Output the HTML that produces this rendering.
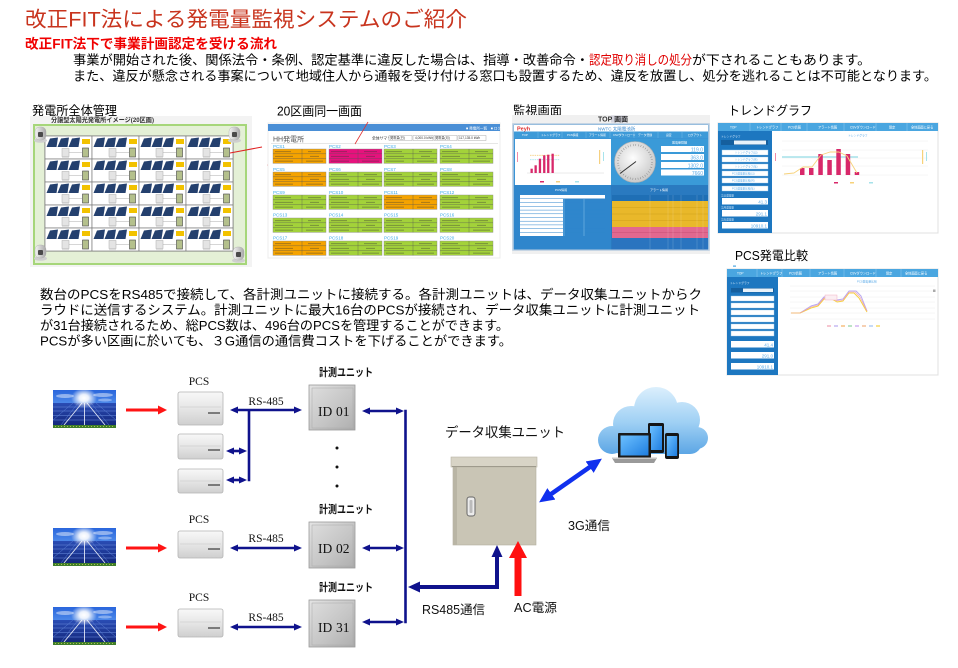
<!DOCTYPE html>
<html><head><meta charset="utf-8">
<style>
html,body{margin:0;padding:0;background:#fff;}
svg{display:block;}
text{font-family:"Liberation Sans","Noto Sans CJK JP",sans-serif;}
.sf text, text.sf{font-family:"Liberation Serif","Noto Serif CJK SC",serif;}
</style></head><body>
<svg width="958" height="668" viewBox="0 0 958 668" xmlns="http://www.w3.org/2000/svg">
<defs>
<linearGradient id="sky" x1="0" y1="0" x2="0" y2="1"><stop offset="0" stop-color="#2a66dc"/><stop offset="1" stop-color="#8cc8ff"/></linearGradient>
<radialGradient id="sun" cx=".5" cy=".5" r=".5"><stop offset="0" stop-color="#fff"/><stop offset=".35" stop-color="#fff" stop-opacity=".9"/><stop offset="1" stop-color="#fff" stop-opacity="0"/></radialGradient>
<linearGradient id="pan" x1="0" y1="0" x2="0" y2="1"><stop offset="0" stop-color="#2a4cb4"/><stop offset="1" stop-color="#14287c"/></linearGradient>
<linearGradient id="pcsg" x1="0" y1="0" x2="0" y2="1"><stop offset="0" stop-color="#f8f8f8"/><stop offset=".5" stop-color="#e6e6e6"/><stop offset="1" stop-color="#cfcfcf"/></linearGradient>
<linearGradient id="boxg" x1="0" y1="0" x2="1" y2="1"><stop offset="0" stop-color="#e4e4e4"/><stop offset="1" stop-color="#a9a9a9"/></linearGradient>
<linearGradient id="doorg" x1="0" y1="0" x2="1" y2="1"><stop offset="0" stop-color="#dcdcdc"/><stop offset=".6" stop-color="#c4c4c4"/><stop offset="1" stop-color="#b0b0b0"/></linearGradient>
<linearGradient id="camg" x1="0" y1="0" x2="1" y2="0"><stop offset="0" stop-color="#f4f4f4"/><stop offset="1" stop-color="#a8a8a8"/></linearGradient>
<linearGradient id="cloudg" gradientUnits="userSpaceOnUse" x1="0" y1="385" x2="0" y2="460"><stop offset="0" stop-color="#dff1fd"/><stop offset=".5" stop-color="#9fd0f4"/><stop offset="1" stop-color="#4f9ee2"/></linearGradient>
<linearGradient id="scr" x1="0" y1="0" x2="1" y2="1"><stop offset="0" stop-color="#6cc0ff"/><stop offset="1" stop-color="#1f7ee0"/></linearGradient>
<radialGradient id="gauge" cx=".45" cy=".4" r=".6"><stop offset="0" stop-color="#fdfdfd"/><stop offset="1" stop-color="#c9c9c9"/></radialGradient>

<marker id="nv" markerUnits="userSpaceOnUse" markerWidth="8" markerHeight="7" refX="5" refY="3.5" orient="auto-start-reverse"><path d="M0,0 L8,3.5 L0,7 z" fill="#0f128c"/></marker>
<marker id="nvb" markerUnits="userSpaceOnUse" markerWidth="12" markerHeight="11" refX="7" refY="5.5" orient="auto-start-reverse"><path d="M0,0 L12,5.5 L0,11 z" fill="#0f128c"/></marker>
<marker id="rd" markerUnits="userSpaceOnUse" markerWidth="9" markerHeight="9" refX="6" refY="4.5" orient="auto"><path d="M0,0 L9,4.5 L0,9 z" fill="#ff1414"/></marker>
<marker id="bl" markerUnits="userSpaceOnUse" markerWidth="15" markerHeight="14" refX="9" refY="7" orient="auto-start-reverse"><path d="M0,0 L15,7 L0,14 z" fill="#1030ee"/></marker>

<g id="solar">
<rect width="63" height="38" fill="url(#sky)"/>
<ellipse cx="12" cy="6" rx="9" ry="2" fill="#fff" opacity=".45"/>
<ellipse cx="50" cy="5" rx="10" ry="2" fill="#fff" opacity=".45"/>
<ellipse cx="52" cy="10" rx="7" ry="1.5" fill="#fff" opacity=".35"/>
<rect y="13" width="63" height="22" fill="url(#pan)"/>
<path d="M0,17H63M0,21H63M0,25.5H63M0,30H63" stroke="#6d8fe0" stroke-width=".5"/>
<path d="M20,13L0,30M43,13L63,30M25,13L8,35M38,13L56,35" stroke="#5b7fd6" stroke-width=".5"/>
<path d="M29,13L11,35M34,13L52,35M31.5,13V35" stroke="#dfe5f4" stroke-width=".9"/>
<ellipse cx="31" cy="8" rx="13" ry="10" fill="url(#sun)"/>
<rect y="35" width="63" height="3" fill="#3f7d2a"/>
<path d="M2,36.5h59" stroke="#d2d860" stroke-width=".8" stroke-dasharray="1 2"/>
</g>

<g id="pcell">
<rect width="47" height="23" fill="#fff" stroke="#7a7a7a" stroke-width=".7"/>
<polygon points="1.5,11 5,2.5 13,1.5 11.5,11" fill="#24406e"/>
<polygon points="12.5,11 16,2.5 24,1.5 22.5,11" fill="#24406e"/>
<polygon points="23.5,11 27,2.5 35,1.5 33.5,11" fill="#24406e"/>
<rect x="37" y="3" width="8" height="5" fill="#f2c200"/>
<rect x="17" y="12.5" width="7" height="8" fill="#e4e4e4" stroke="#aaa" stroke-width=".5"/>
<path d="M24,16.5H37" stroke="#999" stroke-width=".4"/>
<rect x="37.5" y="12" width="6" height="9" fill="#b4c08c" stroke="#444" stroke-width=".6"/>
<path d="M17,21.8h7" stroke="#bbb" stroke-width=".5"/>
</g>

<g id="cam">
<ellipse cx="6.5" cy="13.5" rx="6.5" ry="2.3" fill="#cfcfcf"/>
<rect x="1" y="0" width="11" height="13" rx="4.5" fill="url(#camg)" stroke="#aaa" stroke-width=".4"/>
<rect x="4" y="5" width="5" height="5" rx="1" fill="#4a4a4a"/>
</g>

<g id="pc">
<rect width="53" height="14.4" stroke="#888" stroke-width=".4"/>
<path d="M0,4.8H53M0,9.6H53M29,0V14.4" stroke="#555" stroke-width=".35" fill="none"/>
<path d="M2,2.6H18M35,2.6H48M2,7.4H20M37,7.4H46M2,12.2H20M33,12.2H50" stroke="#333" stroke-width="1.1" stroke-opacity=".35" fill="none"/>
</g>
</defs>

<!-- Header -->
<text x="25" y="26.5" font-size="21" fill="#c8341e" textLength="442" lengthAdjust="spacingAndGlyphs">改正FIT法による発電量監視システムのご紹介</text>
<text x="25" y="48.5" font-size="13.5" font-weight="bold" fill="#f00000" textLength="252" lengthAdjust="spacingAndGlyphs">改正FIT法下で事業計画認定を受ける流れ</text>
<text x="73" y="64.5" font-size="13.2" fill="#000" textLength="516" lengthAdjust="spacingAndGlyphs">事業が開始された後、関係法令・条例、認定基準に違反した場合は、指導・改善命令・</text>
<text x="589" y="64.5" font-size="13.2" fill="#e00000" textLength="103" lengthAdjust="spacingAndGlyphs">認定取り消しの処分</text>
<text x="692" y="64.5" font-size="13.2" fill="#000" textLength="179" lengthAdjust="spacingAndGlyphs">が下されることもあります。</text>
<text x="73" y="80.5" font-size="13.2" fill="#000" textLength="864" lengthAdjust="spacingAndGlyphs">また、違反が懸念される事案について地域住人から通報を受け付ける窓口も設置するため、違反を放置し、処分を逃れることは不可能となります。</text>

<!-- Section labels -->
<text x="32" y="115" font-size="12.5" textLength="85" lengthAdjust="spacingAndGlyphs">発電所全体管理</text>
<text x="277" y="115.5" font-size="12.5" textLength="85" lengthAdjust="spacingAndGlyphs">20区画同一画面</text>
<text x="513" y="115" font-size="12.5" textLength="49" lengthAdjust="spacingAndGlyphs">監視画面</text>
<text x="728" y="115" font-size="12.5" textLength="84" lengthAdjust="spacingAndGlyphs">トレンドグラフ</text>
<text x="735" y="260" font-size="12.5" textLength="73" lengthAdjust="spacingAndGlyphs">PCS発電比較</text>

<!-- Screenshot 1: plant layout -->
<rect x="30" y="116" width="222" height="151" fill="#f3f3f3"/>
<text x="51" y="122" font-size="6.5" font-weight="bold" fill="#333" textLength="103" lengthAdjust="spacingAndGlyphs">分譲型太陽光発電所イメージ(20区画)</text>
<rect x="34" y="125" width="212" height="139" fill="#e4f0d6" stroke="#a6d67a" stroke-width="2"/>
<rect x="45" y="136" width="188" height="115" fill="#fff" stroke="#777"/>
<use href="#pcell" x="45" y="136"/><use href="#pcell" x="92" y="136"/><use href="#pcell" x="139" y="136"/><use href="#pcell" x="186" y="136"/>
<use href="#pcell" x="45" y="159"/><use href="#pcell" x="92" y="159"/><use href="#pcell" x="139" y="159"/><use href="#pcell" x="186" y="159"/>
<use href="#pcell" x="45" y="182"/><use href="#pcell" x="92" y="182"/><use href="#pcell" x="139" y="182"/><use href="#pcell" x="186" y="182"/>
<use href="#pcell" x="45" y="205"/><use href="#pcell" x="92" y="205"/><use href="#pcell" x="139" y="205"/><use href="#pcell" x="186" y="205"/>
<use href="#pcell" x="45" y="228"/><use href="#pcell" x="92" y="228"/><use href="#pcell" x="139" y="228"/><use href="#pcell" x="186" y="228"/>
<use href="#cam" x="34" y="127"/><use href="#cam" x="228" y="127"/><use href="#cam" x="34" y="245"/><use href="#cam" x="232" y="247"/>
<line x1="230" y1="153" x2="262" y2="147" stroke="#e02020" stroke-width="1"/>
<circle cx="268" cy="165" r=".8" fill="#e02020"/>

<!-- Screenshot 2: 20 sections -->
<rect x="268" y="123" width="232" height="135" fill="#fff" stroke="#ececec"/>
<rect x="268" y="124" width="232" height="7" fill="#4a8fd6"/>
<text x="466" y="129.5" font-size="3.6" fill="#fff">■ 発電所一覧　■ ログアウト</text>
<text x="273" y="141.5" font-size="7" fill="#555">HH発電所</text>
<line x1="271" y1="143.5" x2="498" y2="143.5" stroke="#ccc" stroke-width=".5"/>
<text x="372" y="139.5" font-size="3.8" fill="#333">全体サマリ</text>
<rect x="389" y="135.5" width="23" height="5" fill="#fff" stroke="#999" stroke-width=".4"/>
<rect x="413" y="135.5" width="20" height="5" fill="#fff" stroke="#999" stroke-width=".4"/>
<rect x="434" y="135.5" width="23" height="5" fill="#fff" stroke="#999" stroke-width=".4"/>
<rect x="458" y="135.5" width="28" height="5" fill="#fff" stroke="#999" stroke-width=".4"/>
<text x="390" y="139.2" font-size="3.2" fill="#333">発電量(日)</text>
<text x="415" y="139.2" font-size="3.2" fill="#333">4,000.0 kWh</text>
<text x="435" y="139.2" font-size="3.2" fill="#333">発電量(月)</text>
<text x="459" y="139.2" font-size="3.2" fill="#333">117,135.0 kWh</text>
<line x1="368" y1="122" x2="355" y2="144" stroke="#e03030" stroke-width=".8"/>
<g font-size="4.5" fill="#3aa8e8">
<text x="273" y="148">PCS1</text><text x="329" y="148">PCS2</text><text x="384" y="148">PCS3</text><text x="440" y="148">PCS4</text>
<text x="273" y="171">PCS5</text><text x="329" y="171">PCS6</text><text x="384" y="171">PCS7</text><text x="440" y="171">PCS8</text>
<text x="273" y="194">PCS9</text><text x="329" y="194">PCS10</text><text x="384" y="194">PCS11</text><text x="440" y="194">PCS12</text>
<text x="273" y="216.5">PCS13</text><text x="329" y="216.5">PCS14</text><text x="384" y="216.5">PCS15</text><text x="440" y="216.5">PCS16</text>
<text x="273" y="239.5">PCS17</text><text x="329" y="239.5">PCS18</text><text x="384" y="239.5">PCS19</text><text x="440" y="239.5">PCS20</text>
</g>
<use href="#pc" x="273" y="149" fill="#f5a300"/><use href="#pc" x="329" y="149" fill="#e6127d"/><use href="#pc" x="384" y="149" fill="#a3d23a"/><use href="#pc" x="440" y="149" fill="#a3d23a"/>
<use href="#pc" x="273" y="172" fill="#f5a300"/><use href="#pc" x="329" y="172" fill="#a3d23a"/><use href="#pc" x="384" y="172" fill="#a3d23a"/><use href="#pc" x="440" y="172" fill="#a3d23a"/>
<use href="#pc" x="273" y="195" fill="#a3d23a"/><use href="#pc" x="329" y="195" fill="#a3d23a"/><use href="#pc" x="384" y="195" fill="#f5a300"/><use href="#pc" x="440" y="195" fill="#a3d23a"/>
<use href="#pc" x="273" y="218" fill="#a3d23a"/><use href="#pc" x="329" y="218" fill="#a3d23a"/><use href="#pc" x="384" y="218" fill="#a3d23a"/><use href="#pc" x="440" y="218" fill="#a3d23a"/>
<use href="#pc" x="273" y="241" fill="#f5a300"/><use href="#pc" x="329" y="241" fill="#a3d23a"/><use href="#pc" x="384" y="241" fill="#a3d23a"/><use href="#pc" x="440" y="241" fill="#a3d23a"/>

<!-- Screenshot 3: monitoring -->
<rect x="512" y="115" width="198" height="139" fill="#f0f0f0"/>
<rect x="611" y="115.5" width="16" height="7" fill="#d4d4de"/>
<text x="598" y="121.5" font-size="7" font-weight="bold" fill="#333">TOP 画面</text>
<rect x="513" y="124" width="196" height="126" fill="#3a94d6" stroke="#b8cce0" stroke-width="1.5"/>
<rect x="514" y="125" width="194" height="6.5" fill="#fff"/>
<text x="517" y="130.5" font-size="5.5" font-weight="bold" fill="#e03030">Peyh</text>
<text x="598" y="130.3" font-size="4.5" fill="#3a8ad0">NWTC 太陽電池所</text>
<rect x="514" y="131.5" width="194" height="6.5" fill="#3d9ad8"/>
<path d="M538,132V138M562,132V138M586,132V138M610,132V138M634,132V138M658,132V138M682,132V138" stroke="#7fc0ec" stroke-width=".4"/>
<g font-size="2.8" fill="#fff"><text x="522" y="136">TOP</text><text x="541" y="136">トレンドグラフ</text><text x="567" y="136">PCS情報</text><text x="589" y="136">アラート情報</text><text x="613" y="136">CSVダウンロード</text><text x="638" y="136">データ登録</text><text x="666" y="136">設定</text><text x="688" y="136">ログアウト</text></g>
<rect x="515" y="139" width="96" height="46" fill="#fff"/>
<line x1="527" y1="173" x2="604" y2="173" stroke="#ccc" stroke-width=".4"/>
<line x1="530" y1="155.3" x2="560" y2="155.3" stroke="#f5d080" stroke-width=".8" stroke-dasharray="1.5 .8"/>
<line x1="530" y1="159.7" x2="560" y2="159.7" stroke="#a8e4ec" stroke-width=".8" stroke-dasharray="1.5 .8"/>
<g fill="#d8286a"><rect x="530.5" y="168.7" width="2.3" height="4.3"/><rect x="534.5" y="165.3" width="2.3" height="7.7"/><rect x="538.8" y="158.7" width="2.3" height="14.3"/><rect x="543.1" y="155.3" width="2.3" height="17.7"/><rect x="547.1" y="154.7" width="2.3" height="18.3"/><rect x="551.5" y="153.7" width="2.3" height="19.3"/></g>
<rect x="599" y="150" width="1.2" height="14" fill="#f5d080"/><rect x="603" y="152" width="1" height="9" fill="#a8e4ec"/>
<rect x="517" y="152" width="1" height="10" fill="#f08aa8"/>
<rect x="540" y="181" width="4" height="1.5" fill="#d8286a"/><rect x="556" y="181" width="4" height="1.5" fill="#f5d080"/><rect x="575" y="181" width="4" height="1.5" fill="#a8e4ec"/>
<rect x="611" y="139" width="97" height="46" fill="#3a9ad8"/>
<circle cx="635" cy="162" r="20.5" fill="url(#gauge)" stroke="#b0b0b0" stroke-width=".6"/>
<circle cx="635" cy="162" r="17" fill="none" stroke="#777" stroke-width="2" stroke-dasharray=".4 2.2"/>
<line x1="636" y1="161.5" x2="620" y2="173.5" stroke="#333" stroke-width="1"/>
<text x="672" y="143.5" font-size="3" fill="#fff">発電量詳細</text>
<g fill="#fff"><rect x="661" y="146" width="43" height="6"/><rect x="661" y="154" width="43" height="6"/><rect x="661" y="162" width="43" height="6"/><rect x="661" y="169.5" width="43" height="6"/></g>
<g font-size="5" fill="#5aaae8" text-anchor="end"><text x="703" y="151.3">119.0</text><text x="703" y="159.3">363.0</text><text x="703" y="167.3">1302.0</text><text x="703" y="174.8">7660</text></g>
<rect x="514" y="185" width="97" height="64.5" fill="#2f86cc"/>
<rect x="611" y="185" width="97" height="64.5" fill="#2a7ac0"/>
<text x="555" y="191" font-size="3" fill="#fff">PCS情報</text>
<text x="650" y="191" font-size="3" fill="#fff">アラート情報</text>
<rect x="520" y="195" width="85" height="3.5" fill="#fff"/>
<rect x="520" y="199" width="43" height="37" fill="#fff"/>
<path d="M520,202.7H605M520,206.4H605M520,210.1H605M520,213.8H605M520,217.5H605M520,221.2H605M520,224.9H605M520,228.6H605M520,232.3H605" stroke="#2f86cc" stroke-width=".5"/>
<path d="M564,199V236M584,199V236" stroke="#8cc4ee" stroke-width=".5"/>
<rect x="612" y="195" width="96" height="6" fill="#1f6fb5"/>
<rect x="612" y="201" width="96" height="26" fill="#e9b82a"/>
<path d="M612,207.5H708M612,214H708M612,220.5H708" stroke="#c89a18" stroke-width=".4"/>
<rect x="612" y="227" width="96" height="11" fill="#e2688f"/>
<line x1="612" y1="232.5" x2="708" y2="232.5" stroke="#c04a70" stroke-width=".4"/>
<rect x="612" y="238" width="96" height="11.5" fill="#2a74bf"/>
<path d="M650,195V249M668,195V249M673,195V249M681,195V249M697,195V249M703,195V249" stroke="#ffffff" stroke-opacity=".35" stroke-width=".4"/>

<!-- Screenshot 4: trend graph -->
<rect x="718" y="123" width="220" height="110" fill="#fff" stroke="#e0e0e0"/>
<rect x="718" y="123" width="220" height="8" fill="#4aa6e0"/>
<path d="M750,123V131M781,123V131M807,123V131M844,123V131M876,123V131M907,123V131" stroke="#8fcaf0" stroke-width=".5"/>
<g font-size="3.2" fill="#fff"><text x="730" y="128.3">TOP</text><text x="756" y="128.3">トレンドグラフ</text><text x="788" y="128.3">PCS情報</text><text x="818" y="128.3">アラート情報</text><text x="850" y="128.3">CSVダウンロード</text><text x="889" y="128.3">設定</text><text x="911" y="128.3">全体画面に戻る</text></g>
<rect x="718" y="131" width="54" height="102" fill="#1d77c0"/>
<text x="721" y="137.5" font-size="2.8" fill="#cfe6f8">トレンドグラフ</text>
<rect x="721" y="140" width="47" height="5" fill="#155f9e"/><rect x="734" y="140.5" width="32" height="4" fill="#e8f2fa"/>
<g fill="#fff" stroke="#9cc8ec" stroke-width=".4"><rect x="722" y="150" width="46" height="5"/><rect x="722" y="157" width="46" height="5"/><rect x="722" y="164" width="46" height="5"/><rect x="722" y="171" width="46" height="5"/><rect x="722" y="178" width="46" height="5"/><rect x="722" y="186" width="46" height="5"/></g>
<g font-size="2.6" fill="#5aaae8"><text x="735" y="153.5">トレンドグラフ(日)</text><text x="735" y="160.5">トレンドグラフ(月)</text><text x="735" y="167.5">トレンドグラフ(年)</text><text x="732" y="174.5">PCS発電量比較(日)</text><text x="732" y="181.5">PCS発電量比較(月)</text><text x="732" y="189.5">PCS発電量比較(年)</text></g>
<g font-size="2.6" fill="#cfe6f8"><text x="721" y="196.5">当日発電量</text><text x="721" y="208.5">当月発電量</text><text x="721" y="220.5">当年発電量</text></g>
<g fill="#fff"><rect x="722" y="198" width="46" height="6.5"/><rect x="722" y="210" width="46" height="6.5"/><rect x="722" y="222" width="46" height="6.5"/></g>
<g font-size="4.5" fill="#5aaae8" text-anchor="end"><text x="767" y="203.5">41.3</text><text x="767" y="215.5">291.1</text><text x="767" y="227.5">10910.1</text></g>
<text x="848" y="136.5" font-size="2.8" fill="#5aaae8">トレンドグラフ</text>
<path d="M782,141H928M782,150H928M782,158H928M782,166H928M782,175H928" stroke="#eee" stroke-width=".5"/>
<line x1="782" y1="157" x2="858" y2="157" stroke="#a6e2ea" stroke-width="1.4"/>
<g fill="#d8286a"><rect x="800" y="168" width="4.5" height="7"/><rect x="809" y="168" width="4.5" height="7"/><rect x="818.3" y="154" width="4.5" height="21"/><rect x="827.3" y="160" width="4.5" height="15"/><rect x="836.3" y="149" width="4.5" height="26"/><rect x="845.7" y="154" width="4.5" height="21"/><rect x="854.7" y="172" width="4.5" height="3"/></g>
<polyline points="784,174 794,173 803,167 812,167 821,155 830,152 839,152 847,156 857,173" fill="none" stroke="#f7d27a" stroke-width=".9" stroke-linejoin="round"/>
<rect x="922" y="150" width="1.2" height="14" fill="#f7d27a"/><rect x="926" y="152" width="1" height="9" fill="#a6e2ea"/>
<rect x="775" y="153" width="1" height="8" fill="#f08aa8"/>
<rect x="834" y="182" width="4" height="1.5" fill="#d8286a"/><rect x="850" y="182" width="4" height="1.5" fill="#f7d27a"/><rect x="869" y="182" width="4" height="1.5" fill="#a6e2ea"/>

<!-- Screenshot 5: PCS comparison -->
<rect x="733" y="265.5" width="3" height="1.2" fill="#4aa6e0"/>
<rect x="727" y="269" width="211" height="106" fill="#fff" stroke="#e0e0e0"/>
<rect x="727" y="269" width="211" height="8" fill="#4aa6e0"/>
<path d="M757,269V277M782,269V277M810,269V277M844,269V277M876,269V277M901,269V277" stroke="#8fcaf0" stroke-width=".5"/>
<g font-size="3.2" fill="#fff"><text x="737" y="274.3">TOP</text><text x="760" y="274.3">トレンドグラフ</text><text x="789" y="274.3">PCS情報</text><text x="818" y="274.3">アラート情報</text><text x="850" y="274.3">CSVダウンロード</text><text x="886" y="274.3">設定</text><text x="905" y="274.3">全体画面に戻る</text></g>
<rect x="727" y="277" width="51" height="98" fill="#1d77c0"/>
<text x="730" y="284" font-size="2.8" fill="#cfe6f8">トレンドグラフ</text>
<rect x="731" y="288" width="43" height="4.5" fill="#155f9e"/><rect x="743" y="288.5" width="30" height="3.5" fill="#e8f2fa"/>
<g fill="#fff" stroke="#9cc8ec" stroke-width=".4"><rect x="731" y="296" width="43" height="5"/><rect x="731" y="303" width="43" height="5"/><rect x="731" y="310" width="43" height="5"/><rect x="731" y="317" width="43" height="5"/><rect x="731" y="324" width="43" height="5"/><rect x="731" y="331" width="43" height="5"/></g>
<g fill="#fff"><rect x="731" y="341" width="43" height="6.5"/><rect x="731" y="352" width="43" height="6.5"/><rect x="731" y="363" width="43" height="6.5"/></g>
<g font-size="4.5" fill="#5aaae8" text-anchor="end"><text x="773" y="346.5">41.4</text><text x="773" y="357.5">291.0</text><text x="773" y="368.5">10910.1</text></g>
<text x="857" y="282.5" font-size="2.8" fill="#5aaae8">PCS発電量比較</text>
<path d="M790,286H935M790,291H935M790,297H935M790,302H935M790,308H935M790,313H935M790,319H935" stroke="#eee" stroke-width=".5"/>
<polyline points="791,313 800,313 811,306 818,304 824,297 830,296 837,300 843,299 849,291 856,291 861,296 867,311" fill="none" stroke="#b8a8f0" stroke-width="1" stroke-linejoin="round"/>
<polyline points="791,313 800,313 811,308 818,306 824,299 830,298 837,302 843,301 849,293 854,293 859,298 867,312" fill="none" stroke="#f5d040" stroke-width="1" stroke-linejoin="round"/>
<polyline points="791,313 800,313 811,307 818,305 824,298 830,297 837,301 843,300 849,292 855,292 860,297 867,311" fill="none" stroke="#f0a0b0" stroke-width=".6" stroke-linejoin="round"/>
<rect x="825" y="295" width="12" height="5" fill="#fbeef2" stroke="#f0a0b8" stroke-width=".4"/>
<g fill="none" stroke-width="1.2"><path d="M827,326h4" stroke="#f0a0b0"/><path d="M834,326h4" stroke="#b8a8f0"/><path d="M841,326h4" stroke="#f5b060"/><path d="M848,326h4" stroke="#8fd0a0"/><path d="M855,326h4" stroke="#c8a0f0"/><path d="M862,326h4" stroke="#f0b080"/><path d="M869,326h4" stroke="#a0c0f0"/><path d="M876,326h4" stroke="#f5d040"/></g>
<rect x="933" y="289.5" width="2.5" height="2.5" fill="#aaa"/>

<!-- Middle paragraph -->
<text x="40" y="299" font-size="13" textLength="662" lengthAdjust="spacingAndGlyphs">数台のPCSをRS485で接続して、各計測ユニットに接続する。各計測ユニットは、データ収集ユニットからク</text>
<text x="40" y="314.5" font-size="13" textLength="660" lengthAdjust="spacingAndGlyphs">ラウドに送信するシステム。計測ユニットに最大16台のPCSが接続され、データ収集ユニットに計測ユニット</text>
<text x="40" y="330" font-size="13" textLength="469" lengthAdjust="spacingAndGlyphs">が31台接続されるため、総PCS数は、496台のPCSを管理することができます。</text>
<text x="40" y="345.5" font-size="13" textLength="472" lengthAdjust="spacingAndGlyphs">PCSが多い区画に於いても、３G通信の通信費コストを下げることができます。</text>

<!-- Diagram: solar panels -->
<use href="#solar" x="53" y="390"/>
<use href="#solar" x="53" y="528"/>
<use href="#solar" x="53" y="607"/>

<!-- red arrows -->
<g stroke="#ff1414" stroke-width="3" marker-end="url(#rd)">
<line x1="126" y1="410" x2="164" y2="410"/>
<line x1="126" y1="548" x2="164" y2="548"/>
<line x1="126" y1="627" x2="164" y2="627"/>
</g>

<!-- PCS boxes -->
<g stroke="#b4b4b4" stroke-width=".8" fill="url(#pcsg)">
<rect x="178" y="392" width="45" height="33" rx="2"/>
<rect x="178" y="434" width="45" height="25" rx="2"/>
<rect x="178" y="469" width="45" height="24" rx="2"/>
<rect x="178" y="531" width="45" height="27" rx="2"/>
<rect x="178" y="609" width="45" height="28" rx="2"/>
</g>
<g stroke="#cfcfcf" stroke-width=".7">
<path d="M180,407H221M180,446H221M180,481H221M180,544H221M180,622H221"/>
</g>
<g stroke="#5a5a5a" stroke-width="1.6">
<path d="M208,413H220M208,450H220M208,485H220M208,549H220M208,628H220"/>
</g>
<g class="sf" font-size="11.5" fill="#111" text-anchor="middle">
<text x="199" y="385">PCS</text>
<text x="199" y="523">PCS</text>
<text x="199" y="601">PCS</text>
<text x="266" y="405">RS-485</text>
<text x="266" y="542">RS-485</text>
<text x="266" y="621">RS-485</text>
</g>

<!-- measurement units -->
<g>
<rect x="309" y="385" width="46" height="45" fill="url(#boxg)" stroke="#9a9a9a" stroke-width=".8"/>
<rect x="312" y="388" width="41" height="40" fill="url(#doorg)" stroke="#aaa" stroke-width=".5"/>
<rect x="309" y="522" width="46" height="46" fill="url(#boxg)" stroke="#9a9a9a" stroke-width=".8"/>
<rect x="312" y="525" width="41" height="41" fill="url(#doorg)" stroke="#aaa" stroke-width=".5"/>
<rect x="309" y="600" width="46" height="47" fill="url(#boxg)" stroke="#9a9a9a" stroke-width=".8"/>
<rect x="312" y="603" width="41" height="42" fill="url(#doorg)" stroke="#aaa" stroke-width=".5"/>
</g>
<g class="sf" font-size="13.5" fill="#111">
<text x="318" y="416">ID</text><text x="336" y="416">01</text>
<text x="318" y="553">ID</text><text x="336" y="553">02</text>
<text x="318" y="632">ID</text><text x="336" y="632">31</text>
</g>
<g font-size="11" font-weight="bold" fill="#111">
<text x="319" y="376" textLength="54" lengthAdjust="spacingAndGlyphs">計測ユニット</text>
<text x="319" y="513" textLength="54" lengthAdjust="spacingAndGlyphs">計測ユニット</text>
<text x="319" y="591" textLength="54" lengthAdjust="spacingAndGlyphs">計測ユニット</text>
</g>
<g fill="#111"><circle cx="337" cy="448" r="1.5"/><circle cx="337" cy="467" r="1.5"/><circle cx="337" cy="486" r="1.5"/></g>

<!-- navy RS-485 connectors -->
<g stroke="#0f128c" stroke-width="2.6" fill="none">
<line x1="249" y1="410" x2="249" y2="481.3"/>
<line x1="405.5" y1="409.7" x2="405.5" y2="623.3"/>
</g>
<g stroke="#0f128c" stroke-width="2.6" marker-start="url(#nv)" marker-end="url(#nv)">
<line x1="233" y1="410" x2="299" y2="410"/>
<line x1="229" y1="451" x2="244" y2="451"/>
<line x1="229" y1="480" x2="244" y2="480"/>
<line x1="365" y1="411" x2="401" y2="411"/>
<line x1="233" y1="548" x2="299" y2="548"/>
<line x1="365" y1="548" x2="401" y2="548"/>
<line x1="233" y1="627" x2="299" y2="627"/>
<line x1="365" y1="622" x2="401" y2="622"/>
</g>
<!-- thick navy from collector -->
<polyline points="497,550 497,587 413,587" fill="none" stroke="#0f128c" stroke-width="4" marker-start="url(#nvb)" marker-end="url(#nvb)"/>

<!-- data collection unit -->
<rect x="453" y="466" width="83" height="79" fill="#c9c5b5" stroke="#b3af9f" stroke-width=".6"/>
<rect x="453" y="466" width="4" height="79" fill="#b9b5a5"/>
<rect x="451" y="457" width="86" height="10" fill="#d8d4c6" stroke="#b8b4a4" stroke-width=".6"/>
<line x1="452" y1="466.5" x2="536" y2="466.5" stroke="#9e9a8c" stroke-width="1"/>
<rect x="467" y="497" width="8" height="19" rx="2.5" fill="#ececec" stroke="#666" stroke-width="1"/>
<rect x="469.5" y="500" width="3" height="13" rx="1" fill="#bbb"/>
<text x="445" y="437" font-size="13.5" fill="#111" textLength="120" lengthAdjust="spacingAndGlyphs">データ収集ユニット</text>

<!-- AC red arrow -->
<polygon points="514.5,596 521.5,596 521.5,558 527,558 518,541 509,558 514.5,558" fill="#ff1010"/>

<!-- 3G blue arrow -->
<line x1="544" y1="499" x2="597" y2="462" stroke="#1030ee" stroke-width="4.5" marker-start="url(#bl)" marker-end="url(#bl)"/>

<!-- cloud -->
<g fill="url(#cloudg)">
<circle cx="612" cy="440" r="14"/>
<circle cx="631" cy="424" r="18"/>
<circle cx="656" cy="409" r="22"/>
<circle cx="682" cy="420" r="18"/>
<circle cx="697" cy="438" r="11"/>
<rect x="610" y="428" width="92" height="26" rx="12"/>
</g>
<!-- devices -->
<rect x="648" y="423" width="16" height="30" rx="1.5" fill="#151515"/>
<rect x="650" y="426" width="12" height="24" fill="url(#scr)"/>
<rect x="618" y="433" width="33" height="25" rx="1" fill="#1a1a1a"/>
<rect x="620.5" y="435.5" width="28" height="20" fill="url(#scr)"/>
<polygon points="612,458 657,458 654,463 615,463" fill="#9a9a9a"/>
<rect x="612" y="457.5" width="45" height="1.5" fill="#c8c8c8"/>
<rect x="665" y="433" width="14" height="26" rx="2" fill="#151515"/>
<rect x="666.8" y="436" width="10.4" height="20" fill="url(#scr)"/>

<!-- labels -->
<text x="568" y="530" font-size="12.5" fill="#111" textLength="42" lengthAdjust="spacingAndGlyphs">3G通信</text>
<text x="422" y="614" font-size="12.5" fill="#111" textLength="63" lengthAdjust="spacingAndGlyphs">RS485通信</text>
<text x="514" y="612" font-size="12.5" fill="#111" textLength="43" lengthAdjust="spacingAndGlyphs">AC電源</text>
</svg>
</body></html>
